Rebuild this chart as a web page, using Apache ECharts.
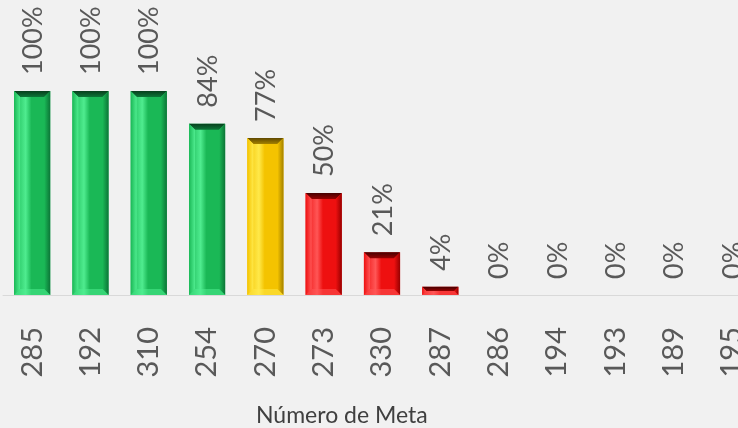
<!DOCTYPE html>
<html>
<head>
<meta charset="utf-8">
<script src="https://cdn.jsdelivr.net/npm/echarts@6/dist/echarts.min.js"></script>
<style>
  html, body { margin: 0; padding: 0; background: #f1f1f1; }
  #main { width: 738px; height: 428px; }
</style>
</head>
<body>
<div id="main"></div>
<script>
// categories = número de meta, values = % cumplimiento
var metas = ['285', '192', '310', '254', '270', '273', '330', '287', '286', '194', '193', '189', '195'];
var avance = [100, 100, 100, 84, 77, 50, 21, 4, 0, 0, 0, 0, 0];

var myChart = echarts.init(document.getElementById('main'));

// bevel palettes by level
function palette(v) {
    if (v >= 80) return { face: '#1ab856', light: '#4fec8f', dark: '#0c7537', top: '#073f1d' };
    if (v >= 60) return { face: '#f4c300', light: '#ffe94a', dark: '#a38100', top: '#5e4700' };
    return { face: '#ee1010', light: '#ff5656', dark: '#960000', top: '#450000' };
}

function renderBar(params, api) {
    var idx = api.value(0);
    var val = api.value(1);
    var top = api.coord([idx, val]);
    var base = api.coord([idx, 0]);
    var w = api.size([1, 0])[0] * 0.62;
    var x0 = top[0] - w / 2, x1 = top[0] + w / 2;
    var y0 = top[1], y1 = base[1];
    var h = y1 - y0;
    var children = [];
    if (h > 0.5) {
        var p = palette(val);
        var b = Math.min(6, h / 2);
        children.push({
            type: 'rect',
            shape: { x: x0, y: y0, width: w, height: h },
            style: {
                fill: new echarts.graphic.LinearGradient(0, 0, 1, 0, [
                    { offset: 0, color: p.face },
                    { offset: 0.32, color: p.light },
                    { offset: 0.48, color: p.face },
                    { offset: 1, color: p.face }
                ])
            }
        });
        // top bevel
        children.push({
            type: 'polygon',
            shape: { points: [[x0, y0], [x1, y0], [x1 - b, y0 + b], [x0 + b, y0 + b]] },
            style: {
                fill: new echarts.graphic.LinearGradient(0, 0, 0, 1, [
                    { offset: 0, color: p.top },
                    { offset: 1, color: p.dark }
                ])
            }
        });
        // left bevel
        children.push({
            type: 'polygon',
            shape: { points: [[x0, y0], [x0 + b, y0 + b], [x0 + b, y1 - b], [x0, y1]] },
            style: {
                fill: new echarts.graphic.LinearGradient(0, 0, 1, 0, [
                    { offset: 0, color: p.face },
                    { offset: 1, color: p.light }
                ])
            }
        });
        // right bevel
        children.push({
            type: 'polygon',
            shape: { points: [[x1, y0], [x1, y1], [x1 - b, y1 - b], [x1 - b, y0 + b]] },
            style: {
                fill: new echarts.graphic.LinearGradient(0, 0, 1, 0, [
                    { offset: 0, color: p.face },
                    { offset: 1, color: p.dark }
                ])
            }
        });
        // bottom bevel
        children.push({
            type: 'polygon',
            shape: { points: [[x0, y1], [x0 + b, y1 - b], [x1 - b, y1 - b], [x1, y1]] },
            style: { fill: p.light, opacity: 0.55 }
        });
    }
    // value label
    children.push({
        type: 'text',
        x: top[0] + 1,
        y: y0 - 16,
        rotation: Math.PI / 2,
        style: {
            text: val + '%',
            fill: '#595959',
            font: '27px Lato',
            align: 'left',
            verticalAlign: 'middle'
        }
    });
    return { type: 'group', children: children };
}

var option = {
    backgroundColor: '#f1f1f1',
    animation: false,
    title: {
        text: 'Número de Meta',
        left: 251,
        top: 399,
        textStyle: { fontFamily: 'Lato', fontSize: 23, fontWeight: 'normal', color: '#404040' }
    },
    grid: { left: 3, width: 758, top: 91, bottom: 133, outerBoundsMode: 'none', containLabel: false },
    xAxis: {
        type: 'category',
        data: metas,
        axisLine: { lineStyle: { color: '#d9d9d9', width: 1 } },
        axisTick: { show: false },
        axisLabel: {
            rotate: 90,
            margin: 32,
            interval: 0,
            color: '#595959',
            fontFamily: 'Lato',
            fontSize: 29
        }
    },
    yAxis: {
        type: 'value',
        min: 0,
        max: 100,
        show: false
    },
    series: [{
        type: 'custom',
        renderItem: renderBar,
        clip: false,
        encode: { x: 0, y: 1 },
        data: avance.map(function (v, i) { return [i, v]; })
    }]
};

myChart.setOption(option);
</script>
</body>
</html>
